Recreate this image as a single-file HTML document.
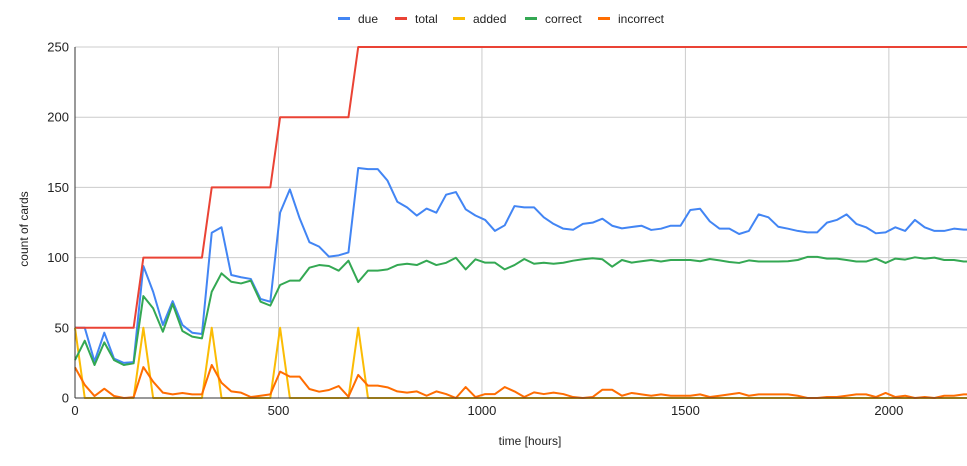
<!DOCTYPE html>
<html><head><meta charset="utf-8">
<style>
html,body{margin:0;padding:0;background:#fff;}
svg{display:block;font-family:"Liberation Sans",Arial,sans-serif;}
</style></head>
<body>
<svg id="chart" width="967" height="466" viewBox="0 0 967 466" xmlns="http://www.w3.org/2000/svg">
  <g id="grid"></g>
  <g id="series"></g>
  <g id="axes"></g>
  <g id="legend"></g>
  <text x="0" y="0" transform="translate(28,229) rotate(-90)" text-anchor="middle" font-size="12" fill="#222">count of cards</text>
  <text x="530" y="445" text-anchor="middle" font-size="12" fill="#222">time [hours]</text>
</svg>
<script>
const stepHours = 24;
const xTicks = [0, 500, 1000, 1500, 2000];
const yTicks = [0, 50, 100, 150, 200, 250];
const seriesNames = ["due", "total", "added", "correct", "incorrect"];
const due = [50,50,26,46.5,28,25,25.6, 94,75.7,52,69,52,46.5,45.6, 117.7,121.6,87.6,86,84.8,70.5,68.6, 132,148.6,128,111,107.8,100.7,101.6,103.7, 163.8,163,163,
 154.8,139.8,135.8,129.9,134.9,132,144.8,146.7,134.4,130,126.8,119,123,136.7,135.8,135.8,128.7,124,120.6,119.8,124,
 124.9,127.7,122.7,120.8,121.8,122.7,119.7,120.6,122.7,122.7,133.9,134.8,125.8,120.6,120.6,116.8,119,130.8,128.7,
 122,120.6,119,118,118,124.9,126.8,130.8,124,121.6,117.3,118,121.6,119,126.8,121.6,119,119,120.6,119.9];
const total = [50,50,50,50,50,50,50, 100,100,100,100,100,100,100, 150,150,150,150,150,150,150, 200,200,200,200,200,200,200,200,
 250,250,250, 250,250,250,250,250,250,250,250,250,250,250,250,250,250,250,250,250,250,250,250,250,
 250,250,250,250,250,250,250,250,250,250,250,250,250,250,250,250,250,250,250,
 250,250,250,250,250,250,250,250,250,250,250,250,250,250,250,250,250,250,250,250];
const added = [50,0,0,0,0,0,0, 50,0,0,0,0,0,0, 50,0,0,0,0,0,0, 50,0,0,0,0,0,0,0, 50,0,0,
 0,0,0,0,0,0,0,0,0,0,0,0,0,0,0,0,0,0,0,0,0,
 0,0,0,0,0,0,0,0,0,0,0,0,0,0,0,0,0,0,0,
 0,0,0,0,0,0,0,0,0,0,0,0,0,0,0,0,0,0,0,0];
const correct = [27,40.8,23.5,39.6,27,23.5,24.7, 72.6,63.9,47.2,67,47.7,43.7,42.5, 75.7,88.8,82.8,81.6,83.6,68.6,65.8, 80.5,83.6,83.6,92.8,94.7,94,90.7,97.8, 82.6,90.7,90.7,
 91.6,94.7,95.6,94.7,97.8,94.7,96.3,99.9,91.6,98.8,96.4,96.4,91.6,94.7,99,95.6,96.3,95.6,96.3,97.8,98.8,
 99.5,98.8,93.5,98.3,96.4,97.4,98.3,97.2,98.3,98.3,98.3,97.4,99,98,96.9,96.2,98,97.2,97.2,
 97.2,97.4,98.3,100.5,100.5,99.3,99.3,98.3,97.2,97.2,99.3,96.2,99.3,98.6,100.2,99.3,100,98.3,98.3,97.2];
const incorrect = [21.8,9.3,1.4,6.6,1.4,0,0.5, 22,11.6,3.8,2.6,3.6,2.6,2.6, 23.5,10.9,4.7,3.8,0.7,1.6,2.6, 18.8,15.2,15.2,6.4,4.5,5.7,8.5,0.9, 16.4,8.8,8.8,
 7.6,4.7,3.8,4.7,1.6,4.7,2.8,0,7.8,0.7,2.8,2.8,7.8,4.7,0.7,4,2.8,3.8,2.8,0.7,0,
 0.7,5.9,5.9,1.6,3.6,2.6,1.6,2.6,1.6,1.6,1.6,2.6,0.7,1.6,2.6,3.6,1.6,2.6,2.6,
 2.6,2.6,1.6,0,0,0.7,0.7,1.6,2.6,2.6,0.7,3.6,0.7,1.6,0,0.7,0,1.6,1.6,2.6];

const NS = "http://www.w3.org/2000/svg";
const L = 75, R = 967, T = 47, B = 398;
const xMax = 2192, yMax = 250;
function xs(v){ return L + v / xMax * (R - L); }
function ys(v){ return B - v / yMax * (B - T); }
function mk(tag, attrs, parent){
  const e = document.createElementNS(NS, tag);
  for (const k in attrs) e.setAttribute(k, attrs[k]);
  parent.appendChild(e); return e;
}
const grid = document.getElementById('grid');
const axes = document.getElementById('axes');
const seriesG = document.getElementById('series');
const legend = document.getElementById('legend');

yTicks.forEach(t => {
  const y = ys(t);
  if (t > 0) {
    const g = mk('line', {x1:L, x2:R, y1:y, y2:y, stroke:'#cccccc', 'stroke-width':1}, grid);
    
    
  }
  const lb = mk('text', {x:69, y:y+4.5, 'text-anchor':'end', 'font-size':13, fill:'#222'}, axes);
  lb.textContent = t;
  
  
});
xTicks.forEach(t => {
  const x = xs(t);
  if (t > 0) {
    const g = mk('line', {x1:x, x2:x, y1:T, y2:B, stroke:'#cccccc', 'stroke-width':1}, grid);
    
    
  }
  const lb = mk('text', {x:x, y:415, 'text-anchor':'middle', 'font-size':13, fill:'#222'}, axes);
  lb.textContent = t;
  
  
});
const ax1 = mk('line', {x1:L, x2:L, y1:T, y2:B, stroke:'#333', 'stroke-width':1}, axes);


const ax2 = mk('line', {x1:L, x2:R, y1:B, y2:B, stroke:'#333', 'stroke-width':1}, axes);



const colors = ["#4285f4", "#ea4335", "#fbbc04", "#34a853", "#ff6d01"];
const data = [due, total, added, correct, incorrect];
data.forEach((arr, si) => {
  const pts = arr.map((v, i) => xs(i * stepHours).toFixed(2) + ',' + ys(v).toFixed(2));
  // reference line runs off the right edge of the plot
  const last = arr[arr.length - 1];
  pts.push(R.toFixed(2) + ',' + ys(last).toFixed(2));
  const pl = mk('polyline', {points:pts.join(' '), fill:'none', stroke:colors[si], 'stroke-width':2, 'stroke-linejoin':'round'}, seriesG);
  
  
});

const legendX = [338, 395, 453, 525, 598];
seriesNames.forEach((n, i) => {
  const g = mk('g', {}, legend);
  
  
  mk('line', {x1:legendX[i], x2:legendX[i]+12, y1:18.5, y2:18.5, stroke:colors[i], 'stroke-width':3}, g);
  const t = mk('text', {x:legendX[i]+20, y:23, 'font-size':12, fill:'#222'}, g);
  t.textContent = n;
});
</script>
</body></html>
